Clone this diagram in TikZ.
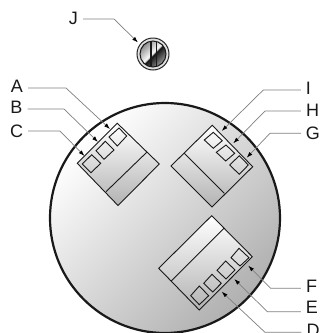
\documentclass[tikz,border=0pt]{standalone}
\usepackage{fontspec}
\setmainfont{Liberation Sans}
\usetikzlibrary{arrows.meta}
\pgfdeclarehorizontalshading{screwgrad}{100bp}{
  color(0bp)=(black!60);
  color(25bp)=(black!45);
  color(49.5bp)=(white);
  color(51bp)=(black!95);
  color(75bp)=(black!40);
  color(100bp)=(black!40)}
\tikzset{
  lbl/.style={font=\fontsize{18}{18}\selectfont,inner sep=0pt,text=black!90},
  lead/.style={draw=black!50,line width=0.7pt,shorten <=5pt,-{Latex[length=6pt,width=4pt,black]}},
  plate/.style={draw=black!90,line width=0.9pt,line join=miter,top color=white,bottom color=black!30},
  inner line/.style={draw=black!90,line width=0.9pt},
  slot/.style={draw=black!90,line width=0.9pt},
}
\newcommand{\squarebox}[4]{\draw[slot] #1 -- #2 -- #3 -- #4 -- cycle;}
\begin{document}
\begin{tikzpicture}[x=1pt,y=-1pt]
\useasboundingbox (0,0) rectangle (320,333);
\path[fill=white] (0,0) rectangle (320,333);
% main disc
\begin{scope}
\clip (0,0) rectangle (320,333);
\path[top color=white,bottom color=black!31,shading angle=45] (165,218) circle[radius=115];
\draw[line width=2.2pt,black!90] (165,218) circle[radius=115];
\end{scope}
% screw
\draw[line width=1pt,black!85,fill=black!12] (153,54) circle[radius=16];
\begin{scope}
\clip (153,54) circle[radius=13];
\path[shading=screwgrad,shading angle=-45] (153,54) circle[radius=13];
\draw[line width=1.2pt,black!90] (151,39.8) -- (151,68.2) (156.2,39.8) -- (156.2,68.2);
\end{scope}
\draw[line width=1pt,black!90] (153,54) circle[radius=13];
% plate A B C
\draw[plate] (117.3,123.3) -- (159.3,164) -- (118,205.5) -- (77.3,163.3) -- cycle;
\draw[inner line] (146.7,152.3) -- (106,191.7);
\squarebox{(119,128)}{(126.7,136)}{(117.3,146)}{(109,137)}
\squarebox{(105.3,141.3)}{(114,150)}{(104,159.3)}{(96,150.7)}
\squarebox{(91.7,154.7)}{(100.7,163.3)}{(91,172.7)}{(82.3,164)}
% plate G H I
\draw[plate] (212.3,125.3) -- (252.7,166.7) -- (212,207) -- (171,166) -- cycle;
\draw[inner line] (184.3,153.3) -- (224.3,193.3);
\squarebox{(213.3,132.3)}{(222.3,140.7)}{(213.3,148.3)}{(204.3,140)}
\squarebox{(226,145)}{(234.7,153.3)}{(225.7,161)}{(216.3,152.3)}
\squarebox{(239.3,155.7)}{(248.3,165)}{(239.3,174.3)}{(229.7,165)}
% plate D E F
\draw[plate] (211.7,215.7) -- (252.3,256.7) -- (199.3,310) -- (158.7,268.3) -- cycle;
\draw[inner line] (224,228.3) -- (171.3,281);
\squarebox{(239,248.3)}{(249,257.7)}{(240,266)}{(231,257.7)}
\squarebox{(225.7,261)}{(235,270)}{(226,279)}{(217,270.3)}
\squarebox{(212,274.3)}{(221.3,283.3)}{(212.7,292)}{(203.7,283.3)}
\squarebox{(199.3,286)}{(208.7,295.7)}{(199.3,304.7)}{(190.7,295.7)}
% labels
\node[lbl] (J) at (73.5,18.8) {J};
\node[lbl] (A) at (17,86.7) {A};
\node[lbl] (B) at (16.5,107.8) {B};
\node[lbl] (C) at (16.5,130.8) {C};
\node[lbl] (I) at (308.5,88.8) {I};
\node[lbl] (H) at (312.5,110) {H};
\node[lbl] (G) at (313,133.3) {G};
\node[lbl] (F) at (311.5,286) {F};
\node[lbl] (E) at (312,307.8) {E};
\node[lbl] (D) at (313,330.7) {D};
% leader elbows and tips
\coordinate (eJ) at (114,19);     \coordinate (tJ) at (138,42.5);
\coordinate (eA) at (66,88);      \coordinate (tA) at (110,129);
\coordinate (eB) at (64,109);     \coordinate (tB) at (98,142);
\coordinate (eC) at (60,131);     \coordinate (tC) at (84.5,156);
\coordinate (eI) at (263.3,90);   \coordinate (tI) at (221.7,131);
\coordinate (eH) at (265,111);    \coordinate (tH) at (233.3,143.3);
\coordinate (eG) at (270,133.3);  \coordinate (tG) at (246.7,157.7);
\coordinate (eF) at (270.7,288.3);\coordinate (tF) at (248.3,265.7);
\coordinate (eE) at (267.3,311.7);\coordinate (tE) at (234.3,279);
\coordinate (eD) at (265,332.3);  \coordinate (tD) at (221.7,291.7);
\draw[lead] (J.east |- eJ) -- (eJ) -- (tJ);
\draw[lead] (A.east |- eA) -- (eA) -- (tA);
\draw[lead] (B.east |- eB) -- (eB) -- (tB);
\draw[lead] (C.east |- eC) -- (eC) -- (tC);
\draw[lead] (I.west |- eI) -- (eI) -- (tI);
\draw[lead] (H.west |- eH) -- (eH) -- (tH);
\draw[lead] (G.west |- eG) -- (eG) -- (tG);
\draw[lead] (F.west |- eF) -- (eF) -- (tF);
\draw[lead] (E.west |- eE) -- (eE) -- (tE);
\draw[lead] (D.west |- eD) -- (eD) -- (tD);
\end{tikzpicture}
\end{document}
